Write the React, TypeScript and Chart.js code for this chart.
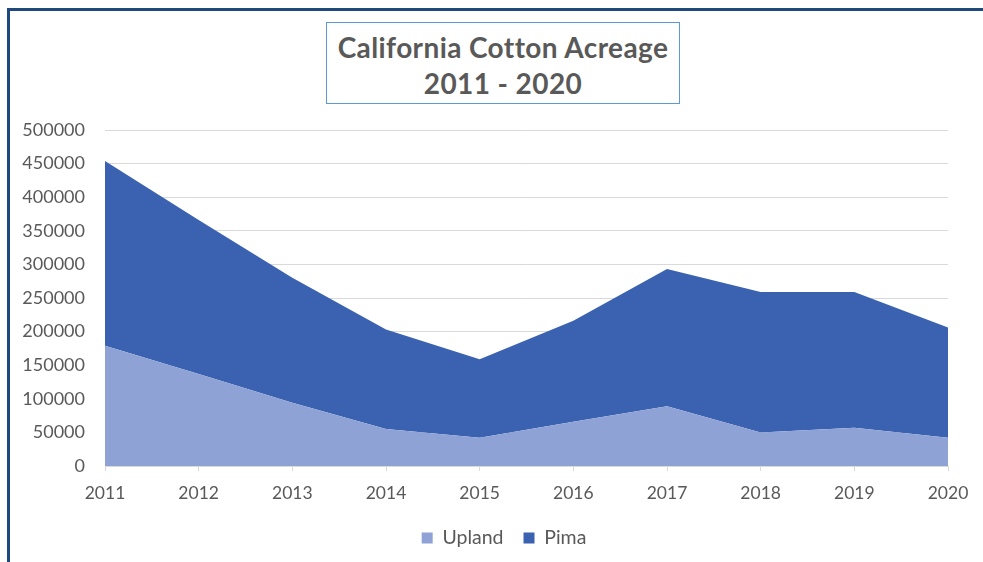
import React, { useEffect, useRef } from "react";
import { Chart, registerables } from "chart.js";

Chart.register(...registerables);

const years = ["2011", "2012", "2013", "2014", "2015", "2016", "2017", "2018", "2019", "2020"];
const upland = [179000, 137000, 94000, 55000, 42000, 66000, 89000, 50000, 57000, 42000];
const pima = [275000, 229000, 186000, 148000, 117000, 150000, 204000, 209000, 202000, 164000];
const yMax = 500000;
const yStep = 50000;
const titleLines = ["California Cotton Acreage", "2011 - 2020"];

const UPLAND_COLOR = "#8fa2d5";
const PIMA_COLOR = "#3a62b0";
const TEXT = "#595959";
const FONT = "Lato, 'Open Sans', sans-serif";

const legendShift = {
  id: "legendShift",
  afterLayout(chart: any) {
    const l = chart.legend;
    if (l) {
      l.left += 30;
      l.right += 30;
    }
  },
};

export default function App() {
  const ref = useRef<HTMLCanvasElement | null>(null);

  useEffect(() => {
    if (!ref.current) return;
    const chart = new Chart(ref.current, {
      type: "line",
      data: {
        labels: years,
        datasets: [
          {
            label: "Upland",
            data: upland,
            backgroundColor: UPLAND_COLOR,
            borderColor: UPLAND_COLOR,
            borderWidth: 0,
            pointRadius: 0,
            fill: "origin",
            tension: 0,
          },
          {
            label: "Pima",
            data: pima,
            backgroundColor: PIMA_COLOR,
            borderColor: PIMA_COLOR,
            borderWidth: 0,
            pointRadius: 0,
            fill: "-1",
            tension: 0,
          },
        ],
      },
      plugins: [legendShift],
      options: {
        animation: false,
        responsive: false,
        maintainAspectRatio: false,
        layout: { padding: { top: 130, right: 35, bottom: 4.25, left: 0 } },
        plugins: {
          title: { display: false },
          tooltip: { enabled: false },
          legend: {
            position: "bottom",
            labels: {
              boxWidth: 11,
              boxHeight: 11,
              padding: 20,
              color: TEXT,
              font: { family: FONT, size: 19.5 },
            },
          },
        },
        scales: {
          x: {
            offset: false,
            grid: {
              display: true,
              drawOnChartArea: false,
              drawTicks: true,
              tickLength: 5,
              color: "#d9d9d9",
            },
            border: { display: true, color: "#d9d9d9" },
            ticks: {
              color: TEXT,
              font: { family: FONT, size: 17.5 },
              padding: 12,
              maxRotation: 0,
              autoSkip: false,
            },
            afterFit: (s: any) => {
              s.height = 42.25;
            },
          },
          y: {
            stacked: true,
            min: 0,
            max: yMax,
            grid: { color: "#d9d9d9", drawTicks: false },
            border: { display: false },
            ticks: {
              stepSize: yStep,
              color: TEXT,
              font: { family: FONT, size: 18 },
              padding: 20,
              callback: (v: any) => String(v),
            },
            afterFit: (s: any) => {
              s.width = 105;
            },
          },
        },
      },
    });
    return () => chart.destroy();
  }, []);

  return (
    <div style={{ position: "absolute", left: 0, top: 0, width: 983, height: 562, background: "#fff", overflow: "hidden" }}>
      <div
        style={{
          position: "absolute",
          left: 7,
          top: 8,
          width: 976,
          height: 554,
          borderTop: "3px solid #1f497d",
          borderLeft: "3px solid #1f497d",
          boxSizing: "border-box",
        }}
      />
      <canvas ref={ref} width={983} height={562} style={{ position: "absolute", left: 0, top: 0, width: 983, height: 562 }} />
      <div
        style={{
          position: "absolute",
          left: 326,
          top: 22,
          width: 354,
          height: 82,
          boxSizing: "border-box",
          border: "1px solid #5b9bd5",
          background: "#fff",
          paddingTop: 6,
          textAlign: "center",
          fontFamily: FONT,
          fontWeight: 700,
          fontSize: 28,
          letterSpacing: "0.4px",
          lineHeight: "36px",
          color: TEXT,
          whiteSpace: "nowrap",
        }}
      >
        {titleLines.map((t, i) => (
          <div key={i}>{t}</div>
        ))}
      </div>
    </div>
  );
}
